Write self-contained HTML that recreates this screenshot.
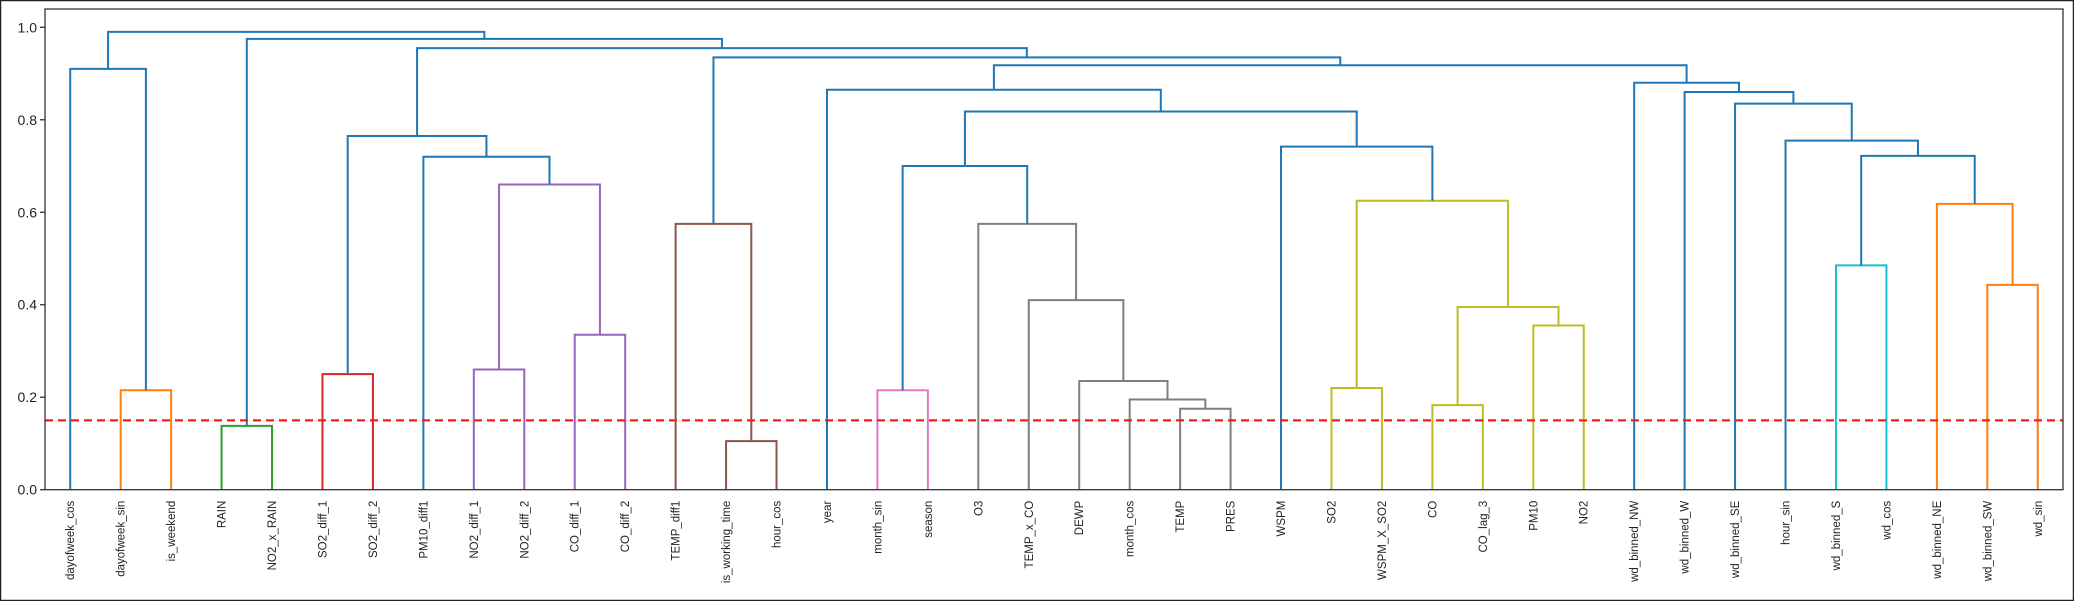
<!DOCTYPE html>
<html><head><meta charset="utf-8"><style>
html,body{margin:0;padding:0;background:#fff;}
svg{display:block;font-family:"Liberation Sans","DejaVu Sans",sans-serif;}
</style></head><body>
<svg id="chart" width="2074" height="601" viewBox="0 0 2074 601" xmlns="http://www.w3.org/2000/svg">
<rect x="0.5" y="0.5" width="2073" height="600" fill="#fff" stroke="#222" stroke-width="1.5"/>
<g id="marks"></g>
<line id="thr" stroke="#ff1a1a" stroke-width="2.2" stroke-dasharray="8,5"/>
<rect x="45" y="9" width="2018" height="480.7" fill="none" stroke="#333" stroke-width="1.3"/>
<g id="yaxis"></g>
<g id="xaxis"></g>
</svg>
<script>
const leaves = ["dayofweek_cos","dayofweek_sin","is_weekend","RAIN","NO2_x_RAIN","SO2_diff_1","SO2_diff_2","PM10_diff1","NO2_diff_1","NO2_diff_2","CO_diff_1","CO_diff_2","TEMP_diff1","is_working_time","hour_cos","year","month_sin","season","O3","TEMP_x_CO","DEWP","month_cos","TEMP","PRES","WSPM","SO2","WSPM_X_SO2","CO","CO_lag_3","PM10","NO2","wd_binned_NW","wd_binned_W","wd_binned_SE","hour_sin","wd_binned_S","wd_cos","wd_binned_NE","wd_binned_SW","wd_sin"];
const mergeLeft  = [1,0,3,5,8,10,44,7,43,13,12,16,22,21,20,19,18,51,25,27,29,59,58,24,57,15,35,38,37,66,34,33,32,31,65,50,48,42,41];
const mergeRight = [2,40,4,6,9,11,45,46,47,14,49,17,23,52,53,54,55,56,26,28,30,60,61,62,63,64,36,39,67,68,69,70,71,72,73,74,75,76,77];
const mergeHeight = [0.215,0.91,0.138,0.25,0.26,0.335,0.66,0.72,0.765,0.105,0.575,0.215,0.175,0.195,0.235,0.41,0.575,0.70,0.22,0.183,0.355,0.395,0.625,0.742,0.818,0.865,0.485,0.443,0.618,0.722,0.755,0.835,0.86,0.88,0.918,0.935,0.955,0.975,0.99];
const mergeColor = ["o","b","g","r","p","p","p","b","b","n","n","k","y","y","y","y","y","b","l","l","l","l","l","b","b","b","c","o","o","b","b","b","b","b","b","b","b","b","b"];
const yTicks = [0.0,0.2,0.4,0.6,0.8,1.0];
const threshold = 0.15;

const palette = {b:"#1f77b4",o:"#ff7f0e",g:"#2ca02c",r:"#d62728",p:"#9467bd",n:"#8c564b",k:"#e377c2",y:"#7f7f7f",l:"#bcbd22",c:"#17becf"};
const X0=45, X1=2063, Y0=489.7, Y1=27.3;
const xScale = i => X0 + (i+0.5)*(X1-X0)/leaves.length;
const yScale = v => Y0 - v*(Y0-Y1);
const NS="http://www.w3.org/2000/svg";
const N = leaves.length;
const nodeX = [], nodeH = [];
for (let i=0;i<N;i++){ nodeX.push(xScale(i)); nodeH.push(0); }
const marks = document.getElementById('marks');
for (let m=0;m<mergeLeft.length;m++){
  const a=mergeLeft[m], b=mergeRight[m], h=mergeHeight[m];
  const xa=nodeX[a], xb=nodeX[b], yh=yScale(h);
  const p=document.createElementNS(NS,'path');
  p.setAttribute('d',`M${xa},${yScale(nodeH[a])} L${xa},${yh} L${xb},${yh} L${xb},${yScale(nodeH[b])}`);
  p.setAttribute('fill','none');
  p.setAttribute('stroke',palette[mergeColor[m]]);
  p.setAttribute('stroke-width','2');
  
  
  marks.appendChild(p);
  nodeX.push((xa+xb)/2); nodeH.push(h);
}
const thr=document.getElementById('thr');
thr.setAttribute('x1',X0); thr.setAttribute('x2',X1);
thr.setAttribute('y1',yScale(threshold)); thr.setAttribute('y2',yScale(threshold));
const ya=document.getElementById('yaxis');
yTicks.forEach(v=>{
  const y=yScale(v);
  const l=document.createElementNS(NS,'line');
  l.setAttribute('x1',X0-5); l.setAttribute('x2',X0); l.setAttribute('y1',y); l.setAttribute('y2',y);
  l.setAttribute('stroke','#333'); l.setAttribute('stroke-width','1.3');
  
  
  ya.appendChild(l);
  const t=document.createElementNS(NS,'text');
  t.setAttribute('x',X0-8); t.setAttribute('y',y+5); t.setAttribute('text-anchor','end');
  t.setAttribute('font-size','14'); t.setAttribute('fill','#222');
  
  
  t.textContent=v.toFixed(1);
  ya.appendChild(t);
});
const xa=document.getElementById('xaxis');
leaves.forEach((name,i)=>{
  const x=xScale(i);
  const t=document.createElementNS(NS,'text');
  t.setAttribute('transform',`translate(${x+4},${Y0+11}) rotate(-90)`);
  t.setAttribute('text-anchor','end');
  t.setAttribute('font-size','11.5'); t.setAttribute('fill','#222');
  
  
  t.textContent=name;
  xa.appendChild(t);
});
</script>
</body></html>
